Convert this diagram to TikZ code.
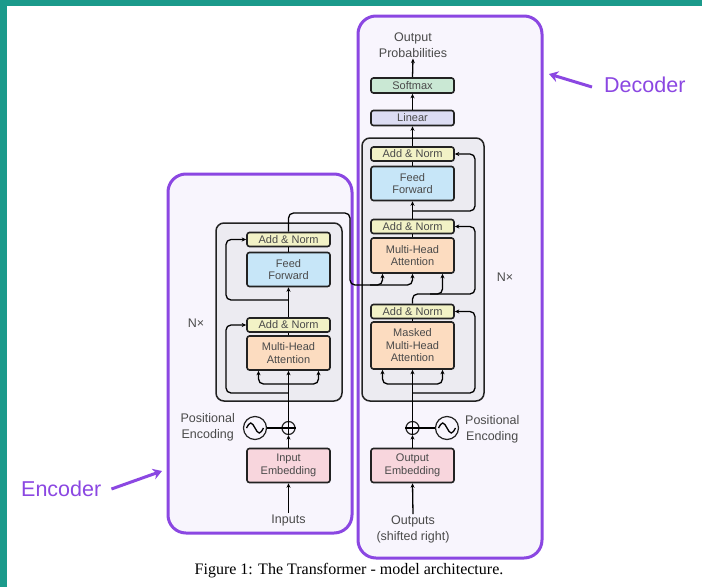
\documentclass[tikz,border=0pt]{standalone}
\usepackage{fontspec}
\setmainfont{Liberation Sans}
\newfontfamily\capfont{Liberation Serif}
\usetikzlibrary{arrows.meta}
\definecolor{teal1}{HTML}{1B9A8B}
\definecolor{purp}{HTML}{8B47E2}
\definecolor{purpfill}{HTML}{F8F5FD}
\definecolor{blockfill}{HTML}{ECEBF1}
\definecolor{anfill}{HTML}{F2F2C6}
\definecolor{fffill}{HTML}{C7E6F8}
\definecolor{mhafill}{HTML}{FCDCC0}
\definecolor{embfill}{HTML}{F8D6DD}
\definecolor{linfill}{HTML}{DCDCF3}
\definecolor{smfill}{HTML}{CAE8D4}
\definecolor{txt}{HTML}{4A4A4A}
\definecolor{edge}{HTML}{222222}
\begin{document}
\begin{tikzpicture}[x=1pt,y=-1pt,
  box/.style={draw=edge, line width=1.6pt, rounded corners=2.5pt, minimum width=83pt, inner sep=0pt, align=center, text=txt, font=\fontsize{11}{12.5}\selectfont},
  an/.style={box, fill=anfill, minimum height=14pt},
  ff/.style={box, fill=fffill, minimum height=34pt},
  mha/.style={box, fill=mhafill, minimum height=34pt},
  emb/.style={box, fill=embfill, minimum height=34pt},
  nxblock/.style={draw=edge, line width=1.5pt, fill=blockfill, rounded corners=8pt},
  outer/.style={draw=purp, line width=3pt, fill=purpfill, rounded corners=18pt},
  lbl/.style={text=txt, align=center, inner sep=1pt, font=\fontsize{12.5}{16}\selectfont},
  conn/.style={line width=1.3pt, draw=black},
  arr/.style={conn, -{Stealth[length=4.5pt,width=4pt]}},
  rc/.style={rounded corners=5pt},
  purparrow/.style={draw=purp, line width=3pt, -{Stealth[length=9pt,width=11pt]}},
  plus/.style={circle, draw=edge, line width=1.2pt, minimum size=13pt, inner sep=0pt},
  sine/.style={circle, draw=edge, line width=1.2pt, minimum size=23pt, inner sep=0pt}
]
\useasboundingbox (0,0) rectangle (702,587);
\fill[white] (0,0) rectangle (702,587);
\fill[teal1] (0,0) rectangle (702,6);
\fill[teal1] (0,0) rectangle (7,587);

% outer purple boxes
\path[outer] (168,174) rectangle (352,533);
\path[outer] (358,16) rectangle (542,558);

% Nx blocks
\path[nxblock] (216,223) rectangle (342,401);
\path[nxblock] (362,138) rectangle (484,401);

% ---------- Encoder ----------
\node[lbl] (einp) at (288.5,520) {Inputs};
\node[emb] (eemb) at (288.5,465.5) {Input\\Embedding};
\node[plus] (eplus) at (288.5,428) {};
\node[sine] (esin) at (255,428) {};
\node[lbl, anchor=east] (epe) at (236,427) {Positional\\Encoding};
\node[mha] (emha) at (288.5,353) {Multi-Head\\Attention};
\node[an] (ean1) at (288.5,325) {Add \& Norm};
\node[ff] (eff) at (288.5,269.5) {Feed\\Forward};
\node[an] (ean2) at (288.5,239.5) {Add \& Norm};
\node[lbl] (enx) at (196,323) {N×};

% ---------- Decoder ----------
\node[lbl] (dinp) at (413,529) {Outputs\\(shifted right)};
\node[emb] (demb) at (412.5,465.5) {Output\\Embedding};
\node[plus] (dplus) at (412.5,428) {};
\node[sine] (dsin) at (447,428) {};
\node[lbl, anchor=west] (dpe) at (464,429) {Positional\\Encoding};
\node[mha, minimum height=47pt] (dmmha) at (412.5,345.5) {Masked\\Multi-Head\\Attention};
\node[an] (dan1) at (412.5,311.5) {Add \& Norm};
\node[mha, minimum height=35pt] (dmha) at (412.5,255.5) {Multi-Head\\Attention};
\node[an] (dan2) at (412.5,226.5) {Add \& Norm};
\node[ff] (dff) at (412.5,183.5) {Feed\\Forward};
\node[an] (dan3) at (412.5,154) {Add \& Norm};
\node[box, fill=linfill, minimum height=15pt] (dlin) at (412.5,118) {Linear};
\node[box, fill=smfill, minimum height=15pt] (dsm) at (412.5,85.5) {Softmax};
\node[lbl] (dout) at (413,45) {Output\\Probabilities};
\node[lbl] (dnx) at (505,277) {N×};

% side labels
\node[text=purp, font=\fontsize{21.5}{24}\selectfont, anchor=west, inner sep=0pt] (enclbl) at (21,489) {Encoder};
\node[text=purp, font=\fontsize{21.5}{24}\selectfont, anchor=west, inner sep=0pt] (declbl) at (604,85) {Decoder};
\coordinate (encpt) at (162,471);
\coordinate (decpt) at (549,74);
\draw[purparrow] ([xshift=10pt]enclbl.east) -- (encpt);
\draw[purparrow] ([xshift=-12pt,yshift=-2pt]declbl.west) -- (decpt);

% caption
\node[font=\capfont\fontsize{16}{18}\selectfont, text=black] (cap) at (349,571) {Figure 1: The Transformer - model architecture.};

% ---------- connectors: encoder ----------
\draw[arr] (einp.north) -- (eemb.south);
\draw[arr] (eemb.north) -- (eplus.south);
\draw[conn] (eplus.north) -- (eplus.south);
\draw[conn] (eplus.west) -- (eplus.east);
\draw[conn] (esin.east) -- (eplus.west);
\draw[conn] ([xshift=-8.5pt]esin.center) sin ++(4.25,-5) cos ++(4.25,5) sin ++(4.25,5) cos ++(4.25,-5);
\coordinate (ebr) at (288.5,384);
\coordinate (eres1) at (288.5,393);
\coordinate (eresL1) at (226,360);
\draw[arr] (eplus.north) -- (emha.south);
\draw[arr,rc] (ebr) -| ([xshift=-30pt]emha.south);
\draw[arr,rc] (ebr) -| ([xshift=30pt]emha.south);
\draw[arr,rc] (eres1) -| (eresL1) |- (ean1.west);
\draw[conn] (emha.north) -- (ean1.south);
\draw[arr] (ean1.north) -- (eff.south);
\coordinate (eres2) at (288.5,300);
\coordinate (eresL2) at (226,270);
\draw[arr,rc] (eres2) -| (eresL2) |- (ean2.west);
\draw[conn] (eff.north) -- (ean2.south);
\coordinate (xA) at (350,213);
\coordinate (xB) at (370,285);
\draw[arr,rc] (ean2.north) |- (xA) |- (xB) -| ([xshift=-30pt]dmha.south);
\draw[arr,rc] (xB) -| (dmha.south);

% ---------- connectors: decoder ----------
\draw[arr] (dinp.north) -- (demb.south);
\draw[arr] (demb.north) -- (dplus.south);
\draw[conn] (dplus.north) -- (dplus.south);
\draw[conn] (dplus.west) -- (dplus.east);
\draw[conn] (dplus.east) -- (dsin.west);
\draw[conn] ([xshift=-8.5pt]dsin.center) sin ++(4.25,-5) cos ++(4.25,5) sin ++(4.25,5) cos ++(4.25,-5);
\coordinate (dbr) at (412.5,384);
\coordinate (dres1) at (412.5,393);
\coordinate (dresR1) at (475,350);
\draw[arr] (dplus.north) -- (dmmha.south);
\draw[arr,rc] (dbr) -| ([xshift=-30pt]dmmha.south);
\draw[arr,rc] (dbr) -| ([xshift=30pt]dmmha.south);
\draw[arr,rc] (dres1) -| (dresR1) |- (dan1.east);
\draw[conn] (dmmha.north) -- (dan1.south);
\coordinate (dC) at (430,294);
\coordinate (dresR2) at (475,260);
\draw[arr,rc] (dan1.north) |- (dC) -| ([xshift=30pt]dmha.south);
\draw[arr,rc] (dC) -| (dresR2) |- (dan2.east);
\draw[conn] (dmha.north) -- (dan2.south);
\draw[arr] (dan2.north) -- (dff.south);
\coordinate (dres3) at (412.5,211);
\coordinate (dresR3) at (475,185);
\draw[arr,rc] (dres3) -| (dresR3) |- (dan3.east);
\draw[conn] (dff.north) -- (dan3.south);
\draw[arr] (dan3.north) -- (dlin.south);
\draw[arr] (dlin.north) -- (dsm.south);
\draw[arr] (dsm.north) -- (dout.south);
\end{tikzpicture}
\end{document}
